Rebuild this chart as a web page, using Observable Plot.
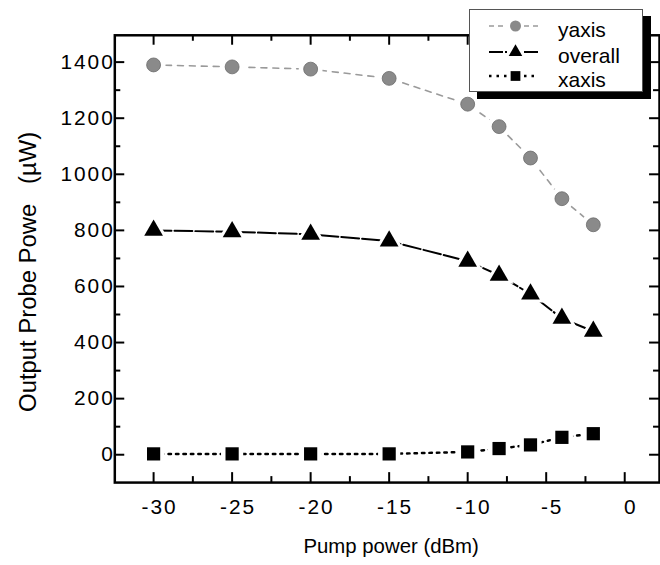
<!DOCTYPE html>
<html>
<head>
<meta charset="utf-8">
<script src="https://cdn.jsdelivr.net/npm/d3@7"></script>
<script src="https://cdn.jsdelivr.net/npm/@observablehq/plot@0.6"></script>
<style>
  body { margin: 0; background: #fff; font-family: "Liberation Sans", Arial, sans-serif; }
  #wrap { position: relative; width: 660px; height: 565px; overflow: hidden; }
  #wrap > svg { position: absolute; left: 0; top: 0; }
  #wrap g[aria-label$="tick label"] { letter-spacing: 2px; }
  #legend { position: absolute; left: 469px; top: 9px; width: 174px; height: 83px;
            box-sizing: border-box; border: 1px solid #555; background: #fff;
            box-shadow: 8px 7px 0 #000; }
  #legend svg { display: block; }
</style>
</head>
<body>
<div id="wrap"><div id="legend"></div></div>
<script>
// Pump power sweep (dBm) and measured output probe power (µW) per axis
const pumpPower    = [-30, -25, -20, -15, -10, -8, -6, -4, -2];
const yAxisPower   = [1390, 1383, 1375, 1342, 1250, 1170, 1058, 913, 820];
const overallPower = [800, 795, 786, 762, 690, 640, 573, 486, 440];
const xAxisPower   = [3, 3, 3, 3, 10, 22, 35, 62, 75];

const seriesNames = ["yaxis", "overall", "xaxis"];
const xTicks = [-30, -25, -20, -15, -10, -5, 0];
const xMinorTicks = [-27.5, -22.5, -17.5, -12.5, -7.5, -2.5];
const yTicks = [0, 200, 400, 600, 800, 1000, 1200, 1400];
const yMinorTicks = [100, 300, 500, 700, 900, 1100, 1300];

const rows = pumpPower.map((p, i) => ({
  p, yaxis: yAxisPower[i], overall: overallPower[i], xaxis: xAxisPower[i]
}));

const width = 664, height = 565;
const mL = 115, mR = 1, mT = 35, mB = 80;
const innerW = width - mL - mR, innerH = height - mT - mB;
const font = "Liberation Sans, Arial, sans-serif";

const chart = Plot.plot({
  width, height,
  marginLeft: mL, marginRight: mR, marginTop: mT, marginBottom: mB,
  style: { fontFamily: font, fontSize: "21px", color: "#000", background: "#fff" },
  x: { domain: [-32.47, 2.215] },
  y: { domain: [-99.3, 1495.7] },
  marks: [
    // tick labels only; tick marks are drawn inward below
    Plot.axisX({ ticks: xTicks, tickSize: 0, tickPadding: 17, tickFormat: d => String(d),
                 label: null, fontSize: 21, dx: 6 }),
    Plot.axisY({ ticks: yTicks, tickSize: 0, tickPadding: 0, tickFormat: d => String(d),
                 label: null, fontSize: 21 }),
    // inward ticks on all four sides
    Plot.tickX(xTicks, { x: d => d, insetTop: innerH - 10, strokeWidth: 2 }),
    Plot.tickX(xTicks, { x: d => d, insetBottom: innerH - 10, strokeWidth: 2 }),
    Plot.tickX(xMinorTicks, { x: d => d, insetTop: innerH - 6, strokeWidth: 2 }),
    Plot.tickX(xMinorTicks, { x: d => d, insetBottom: innerH - 6, strokeWidth: 2 }),
    Plot.tickY(yTicks, { y: d => d, insetRight: innerW - 10, strokeWidth: 2 }),
    Plot.tickY(yTicks, { y: d => d, insetLeft: innerW - 10, strokeWidth: 2 }),
    Plot.tickY(yMinorTicks, { y: d => d, insetRight: innerW - 6, strokeWidth: 2 }),
    Plot.tickY(yMinorTicks, { y: d => d, insetLeft: innerW - 6, strokeWidth: 2 }),
    Plot.frame({ stroke: "#000", strokeWidth: 2.5 }),

    // y axis series: grey dashed line with grey dots
    Plot.line(rows, { x: "p", y: "yaxis", stroke: "#9a9a9a", strokeWidth: 1.6, strokeDasharray: "6 6" }),
    Plot.dot(rows, { x: "p", y: "yaxis", r: 12, fill: "#fff", stroke: "none" }),
    Plot.dot(rows, { x: "p", y: "yaxis", r: 7, fill: "#8a8a8a", stroke: "#6a6a6a", strokeWidth: 0.8 }),

    // overall: black long-dash line with triangles
    Plot.line(rows, { x: "p", y: "overall", stroke: "#000", strokeWidth: 2, strokeDasharray: "18 3" }),
    Plot.dot(rows, { x: "p", y: "overall", symbol: "triangle", r: 7, fill: "#000", stroke: "#fff", strokeWidth: 6 }),
    Plot.dot(rows, { x: "p", y: "overall", symbol: "triangle", r: 7, fill: "#000", stroke: "none" }),

    // x axis series: dotted line with squares
    Plot.line(rows, { x: "p", y: "xaxis", stroke: "#000", strokeWidth: 2.5, strokeDasharray: "2.5 5" }),
    Plot.dot(rows, { x: "p", y: "xaxis", symbol: "square", r: 7.5, fill: "#000", stroke: "#fff", strokeWidth: 9 }),
    Plot.dot(rows, { x: "p", y: "xaxis", symbol: "square", r: 7.5, fill: "#000", stroke: "none" }),

    // axis titles
    Plot.text(["Pump power (dBm)"], { frameAnchor: "bottom", dx: 4, dy: 71, fontSize: 20.5, fill: "#000" }),
    Plot.text(["Output Probe Powe\u00a0\u00a0\u00a0(\u00b5W)"], {
      frameAnchor: "left", textAnchor: "middle", dx: -87, dy: 13, rotate: -90, fontSize: 24, fill: "#000"
    })
  ]
});
document.getElementById("wrap").prepend(chart);

// legend box with sample line + marker for each series
const legendSvg = d3.select("#legend").append("svg").attr("width", 172).attr("height", 81)
  .style("font-family", font).style("font-size", "21px");
const rowY = [16, 42, 66];
const styles = [
  { stroke: "#9a9a9a", w: 1.6, dash: "5 4", sym: d3.symbolCircle, size: Math.PI * 5.5 * 5.5, fill: "#8a8a8a" },
  { stroke: "#000", w: 2, dash: "14 2", sym: d3.symbolTriangle, size: 80, fill: "#000" },
  { stroke: "#000", w: 2.5, dash: "2.5 5", sym: d3.symbolSquare, size: 95, fill: "#000" }
];
seriesNames.forEach((name, i) => {
  const s = styles[i], y = rowY[i];
  const g = legendSvg.append("g");
  g.append("line").attr("x1", 19).attr("x2", 37).attr("y1", y).attr("y2", y)
    .attr("stroke", s.stroke).attr("stroke-width", s.w).attr("stroke-dasharray", s.dash);
  g.append("line").attr("x1", 54).attr("x2", 68).attr("y1", y).attr("y2", y)
    .attr("stroke", s.stroke).attr("stroke-width", s.w).attr("stroke-dasharray", s.dash);
  g.append("path").attr("d", d3.symbol(s.sym, s.size)()).attr("transform", `translate(45.5,${y})`)
    .attr("fill", s.fill);
  g.append("text").attr("x", 88).attr("y", y + 11).text(name);
});
</script>
</body>
</html>
